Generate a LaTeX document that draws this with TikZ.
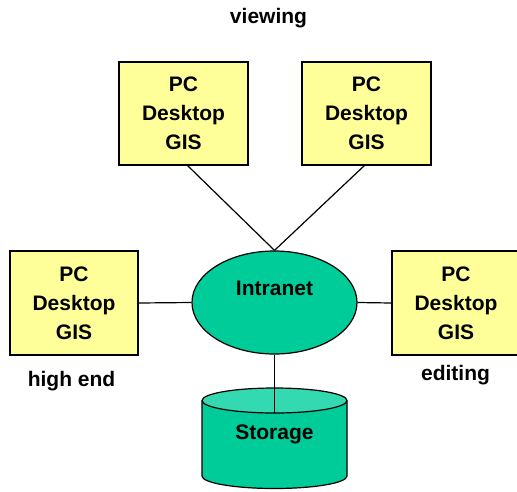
\documentclass[tikz,border=0pt]{standalone}
\usepackage{fontspec}
\setmainfont{Liberation Sans}
\usetikzlibrary{shapes.geometric}
\begin{document}
\begin{tikzpicture}[x=1pt,y=-1pt,
  pcbox/.style={draw=black, line width=1.4pt, fill=pcyellow,
    inner sep=0pt, align=center, font=\fontsize{21}{29}\selectfont\bfseries},
  caption/.style={font=\fontsize{21}{25}\selectfont\bfseries, inner sep=0pt},
  link/.style={draw=black, line width=1.2pt}]
\definecolor{pcyellow}{HTML}{FFFF99}
\definecolor{netgreen}{HTML}{00CC99}
\definecolor{topgreen}{HTML}{33D9B0}
\useasboundingbox (0,0) rectangle (517,491);

% workstations
\node[pcbox, minimum width=129pt, minimum height=103pt] (tl) at (183.5,113.5) {PC\\Desktop\\GIS};
\node[pcbox, minimum width=129pt, minimum height=103pt] (tr) at (366.5,113.5) {PC\\Desktop\\GIS};
\node[pcbox, minimum width=128pt, minimum height=104pt] (ml) at (74,303) {PC\\Desktop\\GIS};
\node[pcbox, minimum width=128pt, minimum height=104pt] (mr) at (456,303) {PC\\Desktop\\GIS};

% network
\node[draw=black, line width=1.2pt, fill=netgreen, ellipse, minimum width=165pt, minimum height=103pt,
  inner sep=0pt] (net) at (274.5,302.5) {};
\node[caption] (netlabel) at (274.5,288) {Intranet};

% storage cylinder
\coordinate (cyl) at (274.5,400.5);
\fill[netgreen] (202,400.5) -- (202,476) arc[start angle=180, end angle=0, x radius=72.5, y radius=12.5] -- (347,400.5) -- cycle;
\draw[line width=1.2pt] (202,400.5) -- (202,476) arc[start angle=180, end angle=0, x radius=72.5, y radius=12.5] -- (347,400.5);
\draw[line width=1.2pt, fill=topgreen] (cyl) ellipse[x radius=72.5, y radius=12.5];
\coordinate (cylfront) at (274.5,413);
\node[caption] (store) at (274.5,434) {Storage};

% connectors
\coordinate (tlfoot) at (187,165);
\coordinate (trfoot) at (365,165);
\draw[link] (tlfoot) -- (net.north);
\draw[link] (trfoot) -- (net.north);
\draw[link] (ml.east) -- (net.west);
\draw[link] (net.east) -- (mr.west);
\draw[link] (net.south) -- (cylfront);

% captions
\node[caption] (view) at (268.5,18) {viewing};
\node[caption] (high) at (71.5,381) {high end};
\node[caption] (edit) at (455.5,375) {editing};
\end{tikzpicture}
\end{document}
